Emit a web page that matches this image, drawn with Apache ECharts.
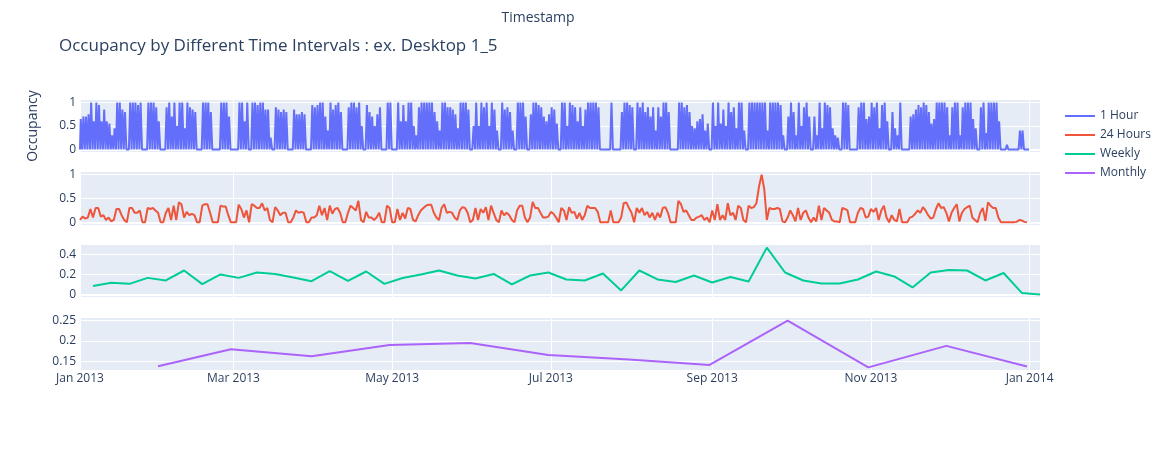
<!DOCTYPE html>
<html>
<head>
<meta charset="utf-8">
<script src="https://cdn.jsdelivr.net/npm/echarts@6/dist/echarts.min.js"></script>
<style>
html,body{margin:0;padding:0;background:#ffffff;}
#chart{width:1168px;height:450px;}
</style>
</head>
<body>
<div id="chart"></div>
<script>
// ---------------- data ----------------
const seriesNames = ['1 Hour', '24 Hours', 'Weekly', 'Monthly'];
const seriesColors = ['#636efa', '#EF553B', '#00cc96', '#ab63fa'];

const yearStart = '2013-01-01';
const xRange = ['2013-01-01', '2014-01-05'];

// peak hourly occupancy of each day of 2013 (0 = desk not used that day)
const hourlyPeak = [
  0.65,0.7,0.7,0.75,1,0.6,1,0.95,0.6,0.85,
  0.6,0.55,0.3,0.45,1,1,0.85,0.8,0,1,
  1,1,0.95,1,0,0,1,1,1,0.9,
  0.6,0,0,0.9,1,0.7,1,0.5,1,1,
  0.45,1,0.9,0.85,0.8,0,0,1,1,1,
  0.8,0,0,0,1,1,1,0.7,0,0,
  0,1,1,0.6,1,0,1,1,0.95,1,
  1,0.85,0.85,0.25,0,0.9,0.85,0.8,0.85,0.8,
  0,0,0.85,0.75,0.75,0.8,0.75,0,0,0.95,
  0.9,0.95,1,1,0.7,0.4,1,0.85,0.95,1,
  0.8,0,0,0.9,1,1,0.9,1,0.5,0,
  0.95,0.8,0.7,0.5,0.75,0.9,0,0,1,1,
  0,0,1,0.6,0.95,0.6,1,1,0.5,0.3,
  0.9,1,1,1,1,1,0.8,0.6,0.4,1,
  1,0.9,0.9,0.85,0.75,0.45,1,1,1,0.85,
  0,0.5,1,0.5,1,0.9,1,0.5,1,0.85,
  0.4,0,1,0.85,0.9,0.8,0.4,0,1,1,
  1,0.7,0,0.75,1,1,0.95,0.9,0.7,0.6,
  0.75,0.9,0.85,0.55,0,1,1,0.5,1,0.95,
  0.9,0.6,0.9,0.5,0.85,1,1,1,1,0.9,
  0,0,0,0,1,0,0,0,0.8,1,
  1,0.95,0.9,0,1,0.9,1,0.8,0.9,0.7,
  0.9,0.4,0.9,0.7,1,1,0.8,0,0,0,
  1,1,0.9,0.95,0.8,0.5,0.45,0.6,0.65,0.75,
  0.4,0.55,0,1,0.5,1,0.55,0.85,0.5,1,
  0.8,0.9,0.45,1,1,0.4,0,1,1,1,
  1,1,1,1,0.4,1,1,1,1,0.95,
  0.3,0,0.7,1,0.8,0.3,1,0.5,0.9,1,
  0.7,0,0.7,0.3,1,0.45,1,0.95,0.9,0.45,
  0.3,0.25,0,1,1,0.95,0,0,0,0.9,
  1,1,0.65,0.7,1,0.9,1,0.45,0.95,1,
  0.6,0,0.8,0.45,0.3,1,0,0,0,0.7,
  0.75,0.85,0.95,0.9,1,0.95,0.8,0.55,0.65,1,
  1,1,1,0.9,0.3,0.9,1,1,0.3,0.9,
  1,1,1,0.65,0.45,0,0.9,1,0.35,1,
  1,1,1,0.6,0,0,0.1,0,0,0,
  0,0.4,0.4,0,0
];
// occupied hours of a day in the hourly trace (start, end)
const occupiedHours = [7, 19];

// 24-hour (daily) mean occupancy, one value per day of 2013
const dailyValues = [
  0.05,0.12,0.08,0.1,0.28,0.1,0.3,0.3,0.12,0.15,
  0.05,0.1,0.02,0.05,0.28,0.28,0.15,0.05,0,0.3,
  0.3,0.2,0.2,0.25,0,0,0.3,0.28,0.3,0.25,
  0.2,0,0,0.2,0.3,0.05,0.35,0.05,0.42,0.38,
  0.1,0.22,0.15,0.18,0.15,0,0,0.35,0.38,0.38,
  0.2,0,0,0,0.35,0.33,0.33,0.15,0,0,
  0,0.37,0.28,0.1,0.25,0,0.38,0.35,0.3,0.3,
  0.4,0.25,0.3,0.05,0,0.32,0.25,0.15,0.2,0.2,
  0,0,0.1,0.25,0.2,0.22,0.2,0,0,0.1,
  0.1,0.15,0.35,0.15,0.3,0.05,0.35,0.18,0.28,0.3,
  0.2,0,0,0.2,0.35,0.3,0.25,0.45,0.05,0,
  0.22,0.1,0.1,0.05,0.1,0.2,0,0,0.35,0.3,
  0,0,0.28,0.05,0.2,0.08,0.3,0.28,0.05,0.02,
  0.15,0.25,0.3,0.35,0.37,0.37,0.2,0.1,0.05,0.3,
  0.38,0.2,0.22,0.2,0.1,0.05,0.25,0.32,0.3,0.2,
  0,0.05,0.3,0.05,0.28,0.2,0.32,0.05,0.35,0.2,
  0.05,0,0.25,0.15,0.2,0.15,0.05,0,0.25,0.35,
  0.35,0.1,0,0.1,0.43,0.3,0.3,0.2,0.1,0.1,
  0.12,0.22,0.18,0.1,0,0.3,0.25,0.05,0.32,0.2,
  0.22,0.08,0.2,0.05,0.15,0.35,0.3,0.3,0.3,0.22,
  0,0,0,0,0.25,0,0,0,0.1,0.4,
  0.42,0.3,0.2,0,0.3,0.2,0.3,0.15,0.22,0.1,
  0.2,0.05,0.2,0.1,0.3,0.32,0.2,0,0,0,
  0.45,0.38,0.22,0.25,0.15,0.05,0.05,0.1,0.12,0.15,
  0.05,0.1,0,0.25,0.05,0.38,0.05,0.15,0.05,0.4,
  0.15,0.2,0.05,0.35,0.3,0.05,0,0.35,0.3,0.32,
  0.4,0.75,1.0,0.7,0.05,0.3,0.28,0.28,0.3,0.28,
  0.02,0,0.1,0.25,0.15,0.02,0.3,0.05,0.2,0.25,
  0.1,0,0.1,0.02,0.35,0.05,0.3,0.25,0.2,0.05,
  0.02,0.02,0,0.3,0.28,0.25,0,0,0,0.2,
  0.3,0.28,0.1,0.12,0.28,0.22,0.3,0.05,0.25,0.35,
  0.1,0,0.15,0.05,0.02,0.28,0,0,0,0.1,
  0.12,0.18,0.25,0.2,0.32,0.25,0.15,0.08,0.1,0.28,
  0.4,0.3,0.32,0.2,0.02,0.2,0.3,0.38,0.02,0.2,
  0.28,0.32,0.35,0.1,0.05,0,0.2,0.3,0.03,0.42,
  0.35,0.3,0.3,0.1,0,0,0,0,0,0,
  0.01,0.05,0.04,0.01,0
];

// weekly mean occupancy, week-ending Sundays from 2013-01-06
const weeklyStart = '2013-01-06';
const weeklyValues = [
  0.085,0.116,0.106,0.166,0.14,0.24,0.103,0.2,0.166,0.22,
  0.205,0.17,0.133,0.233,0.135,0.23,0.106,0.165,0.2,0.24,
  0.19,0.16,0.205,0.1,0.19,0.22,0.15,0.14,0.21,0.04,
  0.24,0.15,0.125,0.19,0.12,0.175,0.13,0.47,0.22,0.14,
  0.11,0.11,0.15,0.23,0.18,0.07,0.22,0.245,0.24,0.14,
  0.215,0.015,0.0
];

// monthly mean occupancy, month-end dates
const monthlyDates = ['2013-01-31','2013-02-28','2013-03-31','2013-04-30','2013-05-31','2013-06-30',
                      '2013-07-31','2013-08-31','2013-09-30','2013-10-31','2013-11-30','2013-12-31'];
const monthlyValues = [0.139,0.18,0.163,0.19,0.195,0.166,0.155,0.142,0.249,0.136,0.188,0.138];

// x tick positions and labels
const xTickDates = ['2013-01-01','2013-03-01','2013-05-01','2013-07-01','2013-09-01','2013-11-01','2014-01-01'];
const xTickLabels = ['Jan 2013','Mar 2013','May 2013','Jul 2013','Sep 2013','Nov 2013','Jan 2014'];

// ---------------- build ----------------
const HOUR = 3600 * 1000, DAY = 24 * HOUR;
function ts(s) { const p = s.split('-').map(Number); return Date.UTC(p[0], p[1] - 1, p[2]); }
const t0 = ts(yearStart);

const hourlyData = [[t0, 0]];
hourlyPeak.forEach((p, d) => {
  const b = t0 + d * DAY;
  hourlyData.push([b + (occupiedHours[0] - 1) * HOUR, 0]);
  hourlyData.push([b + occupiedHours[0] * HOUR, p]);
  hourlyData.push([b + occupiedHours[1] * HOUR, p]);
  hourlyData.push([b + (occupiedHours[1] + 1) * HOUR, 0]);
});
hourlyData.push([t0 + (hourlyPeak.length - 1) * DAY + 23 * HOUR, 0]);

const dailyData = dailyValues.map((v, d) => [t0 + d * DAY, v]);
const w0 = ts(weeklyStart);
const weeklyData = weeklyValues.map((v, k) => [w0 + k * 7 * DAY, v]);
const monthlyData = monthlyValues.map((v, i) => [ts(monthlyDates[i]), v]);
const allData = [hourlyData, dailyData, weeklyData, monthlyData];

const tickTs = xTickDates.map(ts);
const textColor = '#2a3f5f';
const FONT = '"Open Sans", verdana, arial, sans-serif';

const gridTops = [100, 172, 245, 318];
const gridHeights = [52, 53, 52, 52];
const ySplit = [2, 2, 3, 3];

const option = {
  animation: false,
  textStyle: { fontFamily: FONT },
  title: {
    text: 'Occupancy by Different Time Intervals : ex. Desktop 1_5',
    left: 54, top: 33,
    textStyle: { fontSize: 17, fontWeight: 'normal', color: textColor, fontFamily: FONT }
  },
  graphic: [{
    type: 'text', x: 538, y: 18,
    style: { text: 'Timestamp', fill: textColor, font: '14px ' + FONT, textAlign: 'center', verticalAlign: 'middle', textVerticalAlign: 'middle' }
  }],
  legend: {
    orient: 'vertical', left: 1060, top: 104,
    itemWidth: 30, itemHeight: 2, itemGap: 5, icon: 'rect',
    data: seriesNames,
    textStyle: { color: textColor, fontSize: 12, fontFamily: FONT, lineHeight: 14 }
  },
  grid: gridTops.map((t, i) => ({
    left: 80, width: 960, top: t, height: gridHeights[i],
    show: true, backgroundColor: '#E5ECF6', borderWidth: 0, containLabel: false
  })),
  xAxis: gridTops.map((t, i) => ({
    type: 'value', gridIndex: i,
    min: ts(xRange[0]), max: ts(xRange[1]),
    axisLine: { show: i < 3, onZero: true, lineStyle: { color: '#ffffff', width: 2 } },
    axisTick: { show: false, customValues: tickTs },
    axisLabel: {
      show: i === 3, customValues: tickTs, margin: 3,
      color: textColor, fontSize: 12, fontFamily: FONT,
      formatter: (v) => { const k = tickTs.indexOf(v); return k >= 0 ? xTickLabels[k] : ''; }
    },
    splitLine: { show: true, lineStyle: { color: '#ffffff', width: 1 } }
  })),
  yAxis: gridTops.map((t, i) => ({
    type: 'value', gridIndex: i,
    min: (v) => v.min - (v.max - v.min) / 18,
    max: (v) => v.max + (v.max - v.min) / 18,
    splitNumber: ySplit[i],
    name: i === 0 ? 'Occupancy' : '',
    nameLocation: 'middle', nameGap: 40,
    nameTextStyle: { fontSize: 14, color: textColor, fontFamily: FONT },
    axisLine: { show: false }, axisTick: { show: false },
    axisLabel: { showMinLabel: false, showMaxLabel: false, margin: 4, color: textColor, fontSize: 12, fontFamily: FONT },
    splitLine: { show: true, showMinLine: false, showMaxLine: false, lineStyle: { color: '#ffffff', width: 1 } }
  })),
  series: seriesNames.map((n, i) => ({
    name: n, type: 'line', xAxisIndex: i, yAxisIndex: i,
    data: allData[i], symbol: 'none', showSymbol: false,
    color: seriesColors[i],
    lineStyle: { width: 2, color: seriesColors[i] },
    emphasis: { disabled: true }, silent: true
  }))
};

const chart = echarts.init(document.getElementById('chart'), null, { renderer: 'canvas' });
chart.setOption(option);
</script>
</body>
</html>
